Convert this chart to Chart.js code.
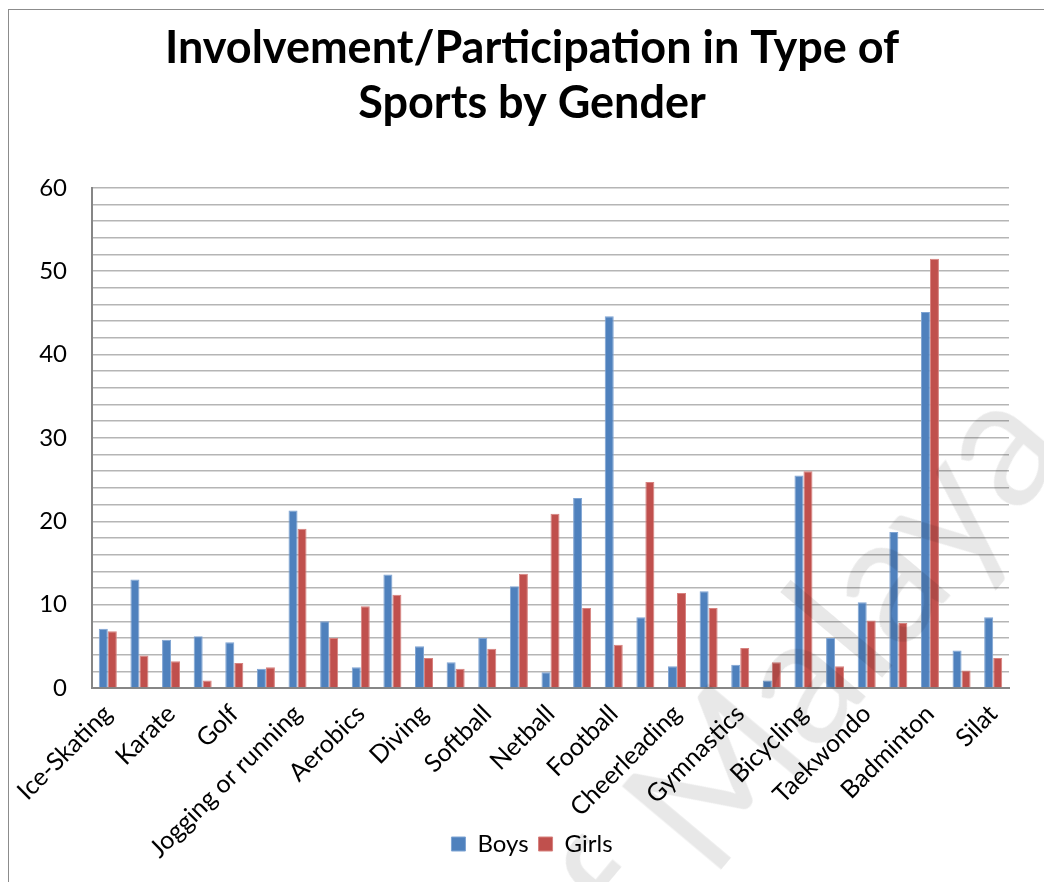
<!DOCTYPE html>
<html>
<head>
<meta charset="utf-8">
<title>Involvement/Participation in Type of Sports by Gender</title>
<script src="https://cdn.jsdelivr.net/npm/chart.js@4.4.1/dist/chart.umd.min.js"></script>
<style>
  html, body { margin: 0; padding: 0; background: #fff; overflow: hidden; }
  #wrap { position: relative; width: 1044px; height: 882px; overflow: hidden; }
  #frame { position: absolute; left: 8px; top: 9px; width: 1200px; height: 1000px; border: 1px solid #8c8c8c; }
  #chart { position: absolute; left: 0; top: 0; }
  #mark {
    position: absolute; left: 772px; top: 700px; width: 0; height: 0;
    pointer-events: none;
  }
  #mark span {
    position: absolute; left: 0; top: 0; white-space: nowrap;
    font-family: Lato, sans-serif; font-size: 180px; color: rgba(0, 0, 0, 0.09);
    transform: translate(-50%, -50%) rotate(-50deg);
  }
</style>
</head>
<body>
<div id="wrap">
  <div id="frame"></div>
  <canvas id="chart" width="1044" height="882"></canvas>
  <div id="mark"><span>of Malaya</span></div>
</div>
<script>
// Categories (only every other one carries a printed name on the axis)
const sportLabels = [
  "Ice-Skating", "", "Karate", "", "Golf", "", "Jogging or running", "",
  "Aerobics", "", "Diving", "", "Softball", "", "Netball", "",
  "Football", "", "Cheerleading", "", "Gymnastics", "", "Bicycling", "",
  "Taekwondo", "", "Badminton", "", "Silat"
];

const boysValues = [
  7.1, 13.0, 5.8, 6.2, 5.5, 2.3, 21.3, 8.0, 2.5, 13.6,
  5.0, 3.1, 6.0, 12.2, 1.9, 22.8, 44.6, 8.5, 2.6, 11.6,
  2.8, 0.9, 25.5, 6.0, 10.3, 18.7, 45.1, 4.5, 8.5
];

const girlsValues = [
  6.8, 3.9, 3.2, 0.9, 3.0, 2.5, 19.1, 6.0, 9.8, 11.2,
  3.6, 2.3, 4.7, 13.7, 20.9, 9.6, 5.2, 24.7, 11.4, 9.6,
  4.8, 3.1, 26.0, 2.6, 8.1, 7.8, 51.5, 2.1, 3.6
];

const seriesNames = ["Boys", "Girls"];
const yTickLabels = [0, 10, 20, 30, 40, 50, 60];
const titleLines = ["Involvement/Participation in Type of", "Sports by Gender"];

const ctx = document.getElementById("chart").getContext("2d");

new Chart(ctx, {
  type: "bar",
  data: {
    labels: sportLabels,
    datasets: [
      {
        label: seriesNames[0],
        data: boysValues,
        backgroundColor: "#4f81bd",
        borderColor: "#7fa4d3",
        borderWidth: 1
      },
      {
        label: seriesNames[1],
        data: girlsValues,
        backgroundColor: "#c0504d",
        borderColor: "#d7827f",
        borderWidth: 1
      }
    ]
  },
  options: {
    responsive: false,
    animation: false,
    categoryPercentage: 0.57,
    barPercentage: 1.0,
    layout: {
      padding: { left: 20, right: 0, top: 0, bottom: 16 }
    },
    plugins: {
      title: {
        display: true,
        text: titleLines,
        color: "#000",
        font: { family: "Lato", weight: "bold", size: 45, lineHeight: 1.22 },
        padding: { top: 21, bottom: 57 }
      },
      legend: {
        position: "bottom",
        labels: {
          color: "#000",
          boxWidth: 14,
          boxHeight: 14,
          padding: 10,
          font: { family: "Lato", size: 24 }
        }
      },
      tooltip: { enabled: false }
    },
    scales: {
      x: {
        grid: { display: false, drawTicks: false },
        border: { color: "#868686", width: 2 },
        ticks: {
          autoSkip: false,
          minRotation: 45,
          maxRotation: 45,
          padding: 11,
          color: "#000",
          font: { family: "Lato", size: 25 }
        },
        afterFit: (scale) => {
          scale.paddingLeft = 0;
          scale.paddingRight = 0;
          scale.height = 134;
          // long rotated names run below the axis box, so don't clip them to it
          scale._computeLabelArea = () => undefined;
        }
      },
      y: {
        min: 0,
        max: 60,
        grid: { color: "#b5b5b5", lineWidth: 1.5, drawTicks: false },
        border: { color: "#868686", width: 2 },
        ticks: {
          stepSize: 2,
          autoSkip: false,
          padding: 25,
          color: "#000",
          font: { family: "Lato", size: 24 },
          callback: (value) => (yTickLabels.includes(value) ? value : "")
        },
        afterFit: (scale) => {
          scale.width = 72;
        }
      },
      // empty strip on the right so the plot ends short of the frame
      yRight: {
        type: "linear",
        axis: "y",
        position: "right",
        grid: { display: false, drawTicks: false },
        border: { display: false },
        ticks: { display: false },
        afterFit: (scale) => {
          scale.width = 35;
        }
      }
    }
  }
});
</script>
</body>
</html>
